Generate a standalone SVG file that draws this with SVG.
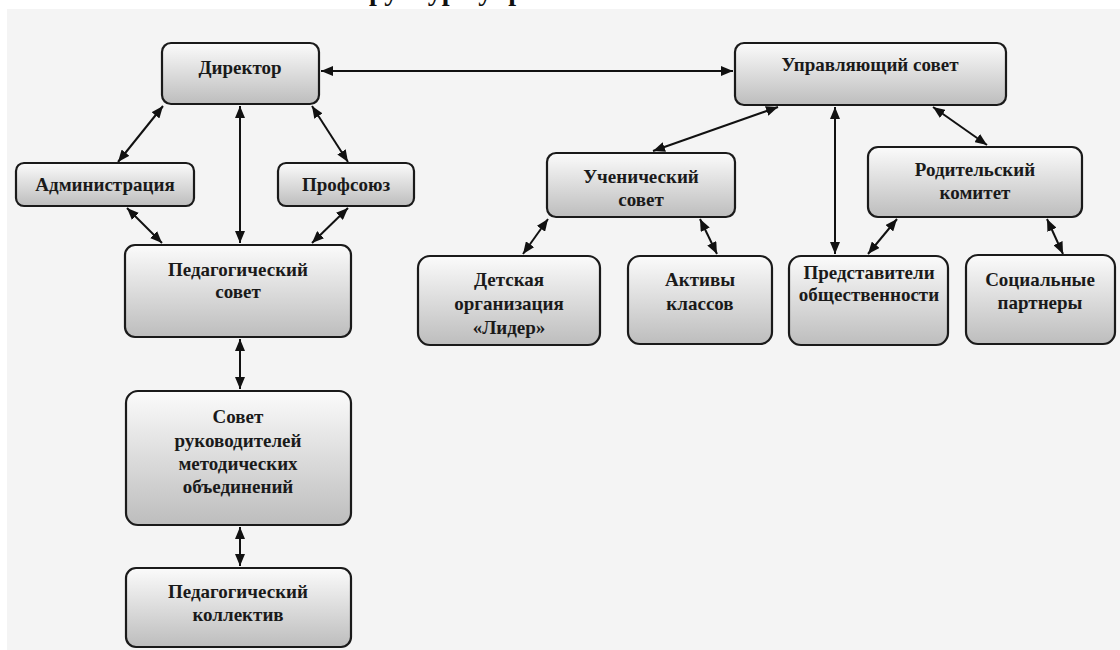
<svg xmlns="http://www.w3.org/2000/svg" width="1120" height="650" viewBox="0 0 1120 650" font-family="Liberation Serif, Times New Roman, serif">
<defs>
<linearGradient id="g" x1="0" y1="0" x2="0" y2="1">
<stop offset="0" stop-color="#fbfbfb"/>
<stop offset="1" stop-color="#bdbdbd"/>
</linearGradient>
<marker id="a" viewBox="0 0 12 10" refX="12" refY="5" markerWidth="12" markerHeight="10" markerUnits="userSpaceOnUse" orient="auto-start-reverse">
<path d="M0,0 L12,5 L0,10 Z" fill="#111"/>
</marker>
<style>
.box{fill:url(#g);stroke:#1a1a1a;stroke-width:2.2}
.t{font-weight:bold;font-size:19px;fill:#1a1a1a;text-anchor:middle}
.c line{stroke:#111;stroke-width:2;marker-start:url(#a);marker-end:url(#a)}
</style>
</defs>
<rect x="0" y="0" width="1120" height="650" fill="#ffffff"/>
<rect x="7" y="9" width="1113" height="641" fill="#f4f4f4"/>
<text x="335" y="0" font-family="Liberation Serif, serif" font-weight="bold" font-size="28" fill="#111">Структура управления</text>
<g class="c" id="connectors">
<line x1="321" y1="71" x2="733" y2="71"/>
<line x1="163" y1="106" x2="118" y2="162"/>
<line x1="240" y1="106" x2="240" y2="243"/>
<line x1="312" y1="106" x2="348" y2="162"/>
<line x1="127" y1="208" x2="162" y2="243"/>
<line x1="348" y1="208" x2="312" y2="243"/>
<line x1="240" y1="339" x2="240" y2="389"/>
<line x1="240" y1="527" x2="240" y2="566"/>
<line x1="778" y1="107" x2="653" y2="151"/>
<line x1="835" y1="107" x2="835" y2="254"/>
<line x1="933" y1="107" x2="987" y2="145"/>
<line x1="548" y1="219" x2="523" y2="254"/>
<line x1="700" y1="219" x2="717" y2="254"/>
<line x1="897" y1="219" x2="868" y2="254"/>
<line x1="1047" y1="219" x2="1063" y2="254"/>
</g>
<g font-family="Liberation Serif, Times New Roman, serif">
<g id="director"><rect class="box" x="162" y="43" width="157" height="61" rx="9"/><text class="t" x="240" y="74">Директор</text></g>
<g id="admin"><rect class="box" x="16" y="163" width="178" height="43" rx="8"/><text class="t" x="105" y="191">Администрация</text></g>
<g id="profsoyuz"><rect class="box" x="278" y="163" width="136" height="43" rx="8"/><text class="t" x="346" y="191">Профсоюз</text></g>
<g id="pedsovet"><rect class="box" x="125" y="245" width="226" height="92" rx="10"/><text class="t" x="238" y="276">Педагогический</text><text class="t" x="238" y="298">совет</text></g>
<g id="sovet-ruk"><rect class="box" x="126" y="391" width="225" height="134" rx="12"/><text class="t" x="238" y="423">Совет</text><text class="t" x="238" y="447">руководителей</text><text class="t" x="238" y="470">методических</text><text class="t" x="238" y="493">объединений</text></g>
<g id="pedkollektiv"><rect class="box" x="126" y="568" width="225" height="79" rx="10"/><text class="t" x="238" y="598">Педагогический</text><text class="t" x="238" y="621">коллектив</text></g>
<g id="upr-sovet"><rect class="box" x="735" y="43" width="271" height="62" rx="9"/><text class="t" x="870" y="71">Управляющий совет</text></g>
<g id="uch-sovet"><rect class="box" x="547" y="153" width="188" height="64" rx="9"/><text class="t" x="641" y="183">Ученический</text><text class="t" x="641" y="206">совет</text></g>
<g id="rod-komitet"><rect class="box" x="868" y="147" width="214" height="70" rx="10"/><text class="t" x="975" y="176">Родительский</text><text class="t" x="975" y="199">комитет</text></g>
<g id="lider"><rect class="box" x="418" y="256" width="182" height="89" rx="12"/><text class="t" x="509" y="286">Детская</text><text class="t" x="509" y="310">организация</text><text class="t" x="509" y="334">«Лидер»</text></g>
<g id="aktivy"><rect class="box" x="628" y="256" width="144" height="88" rx="12"/><text class="t" x="700" y="286">Активы</text><text class="t" x="700" y="310">классов</text></g>
<g id="predstaviteli"><rect class="box" x="789" y="256" width="159" height="89" rx="12"/><text class="t" x="869" y="279">Представители</text><text class="t" x="869" y="301">общественности</text></g>
<g id="partnery"><rect class="box" x="966" y="255" width="149" height="89" rx="12"/><text class="t" x="1040" y="286">Социальные</text><text class="t" x="1040" y="309">партнеры</text></g>
</g>
</svg>
